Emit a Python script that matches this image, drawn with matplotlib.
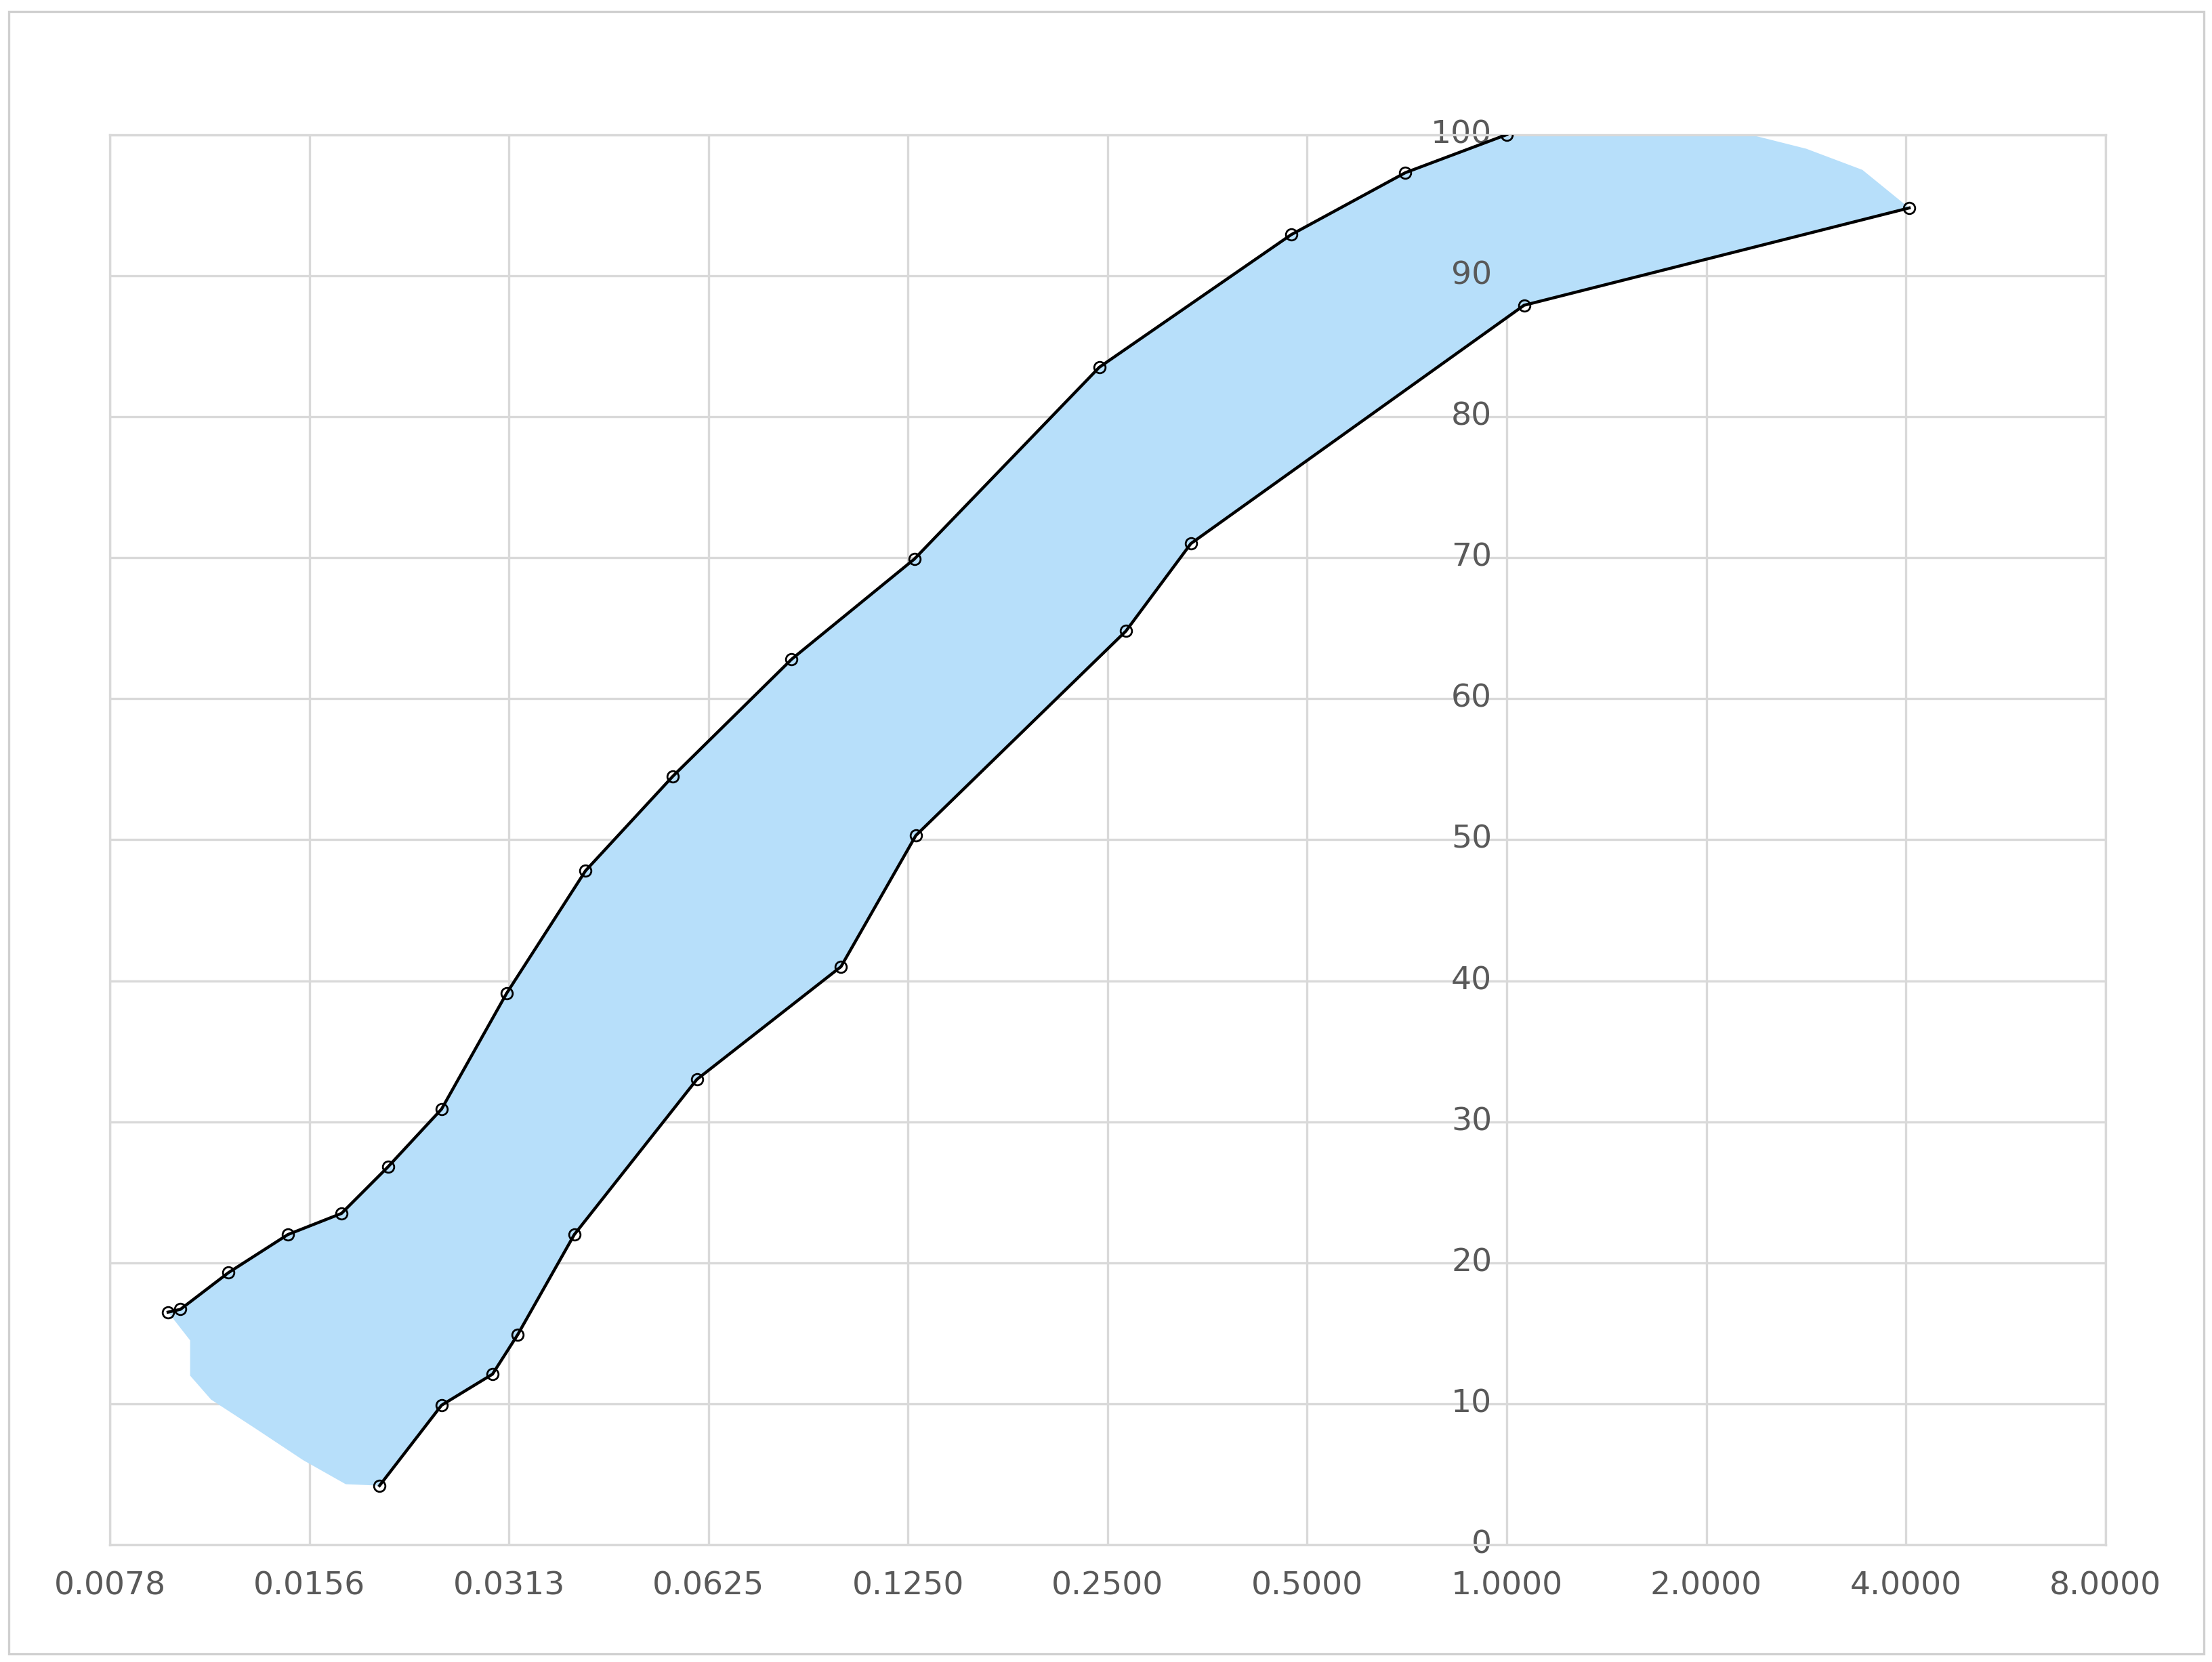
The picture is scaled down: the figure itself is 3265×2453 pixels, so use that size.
import numpy as np
import matplotlib.pyplot as plt
from matplotlib.patches import Rectangle

# upper boundary
upper_x = [0.00956, 0.00998, 0.01179, 0.01449, 0.01746, 0.02052, 0.02472, 0.03098,
           0.04076, 0.0552, 0.0834, 0.1277, 0.2428, 0.4727, 0.703, 1.0]
upper_y = [16.5, 16.7, 19.3, 22.0, 23.5, 26.8, 30.9, 39.1,
           47.8, 54.5, 62.8, 69.9, 83.5, 92.9, 97.3, 100.0]

# lower boundary
lower_x = [0.01993, 0.02472, 0.0295, 0.0322, 0.0392, 0.0600, 0.0990, 0.1284,
           0.2664, 0.3338, 1.062, 4.047]
lower_y = [4.2, 9.9, 12.1, 14.9, 22.0, 33.0, 41.0, 50.3,
           64.8, 71.0, 87.9, 94.8]

# extra outline of the shaded band
top_extra_x = [2.0, 2.33, 2.83, 3.44]
top_extra_y = [100.0, 100.0, 99.0, 97.5]
bottom_extra_x = [0.01032, 0.01032, 0.0111, 0.0129, 0.01529, 0.01772]
bottom_extra_y = [14.5, 12.0, 10.3, 8.3, 6.0, 4.3]

xticks = [0.0078125 * 2 ** i for i in range(11)]
xlabels = ['0.0078', '0.0156', '0.0313', '0.0625', '0.1250', '0.2500',
           '0.5000', '1.0000', '2.0000', '4.0000', '8.0000']
yticks = list(range(0, 101, 10))

fig = plt.figure(figsize=(16.33, 12.265), dpi=200)
fig.patches.append(Rectangle((0.004, 0.005), 0.992, 0.988, transform=fig.transFigure,
                             fill=False, edgecolor='#d0d0d0', linewidth=1.2))
ax = fig.add_axes([0.0497, 0.0705, 0.9018, 0.8485])

poly_x = upper_x + top_extra_x + lower_x[::-1] + bottom_extra_x[::-1]
poly_y = upper_y + top_extra_y + lower_y[::-1] + bottom_extra_y[::-1]
ax.fill(poly_x, poly_y, color='#b7dffa', zorder=1, linewidth=0)

ax.plot(upper_x, upper_y, color='black', lw=1.6, marker='o', ms=6,
        mfc='none', mec='black', mew=1.0, zorder=3)
ax.plot(lower_x, lower_y, color='black', lw=1.6, marker='o', ms=6,
        mfc='none', mec='black', mew=1.0, zorder=3)

ax.set_xscale('log', base=2)
ax.set_xlim(xticks[0], xticks[-1])
ax.set_ylim(0, 100)
ax.set_xticks(xticks)
ax.set_xticklabels(xlabels, fontsize=17, color='#595959')
ax.set_xticks([], minor=True)
ax.set_yticks(yticks)
ax.set_yticklabels([])
ax.tick_params(length=0, pad=14)
ax.grid(True, color='#d9d9d9', lw=1.2, zorder=0)
ax.set_axisbelow(True)
for s in ax.spines.values():
    s.set_color('#d9d9d9')
    s.set_linewidth(1.2)

for v in yticks:
    ax.text(0.95, v, str(v), ha='right', va='center', fontsize=17,
            color='#595959', zorder=2)

fig.savefig('out.png', dpi=200)
